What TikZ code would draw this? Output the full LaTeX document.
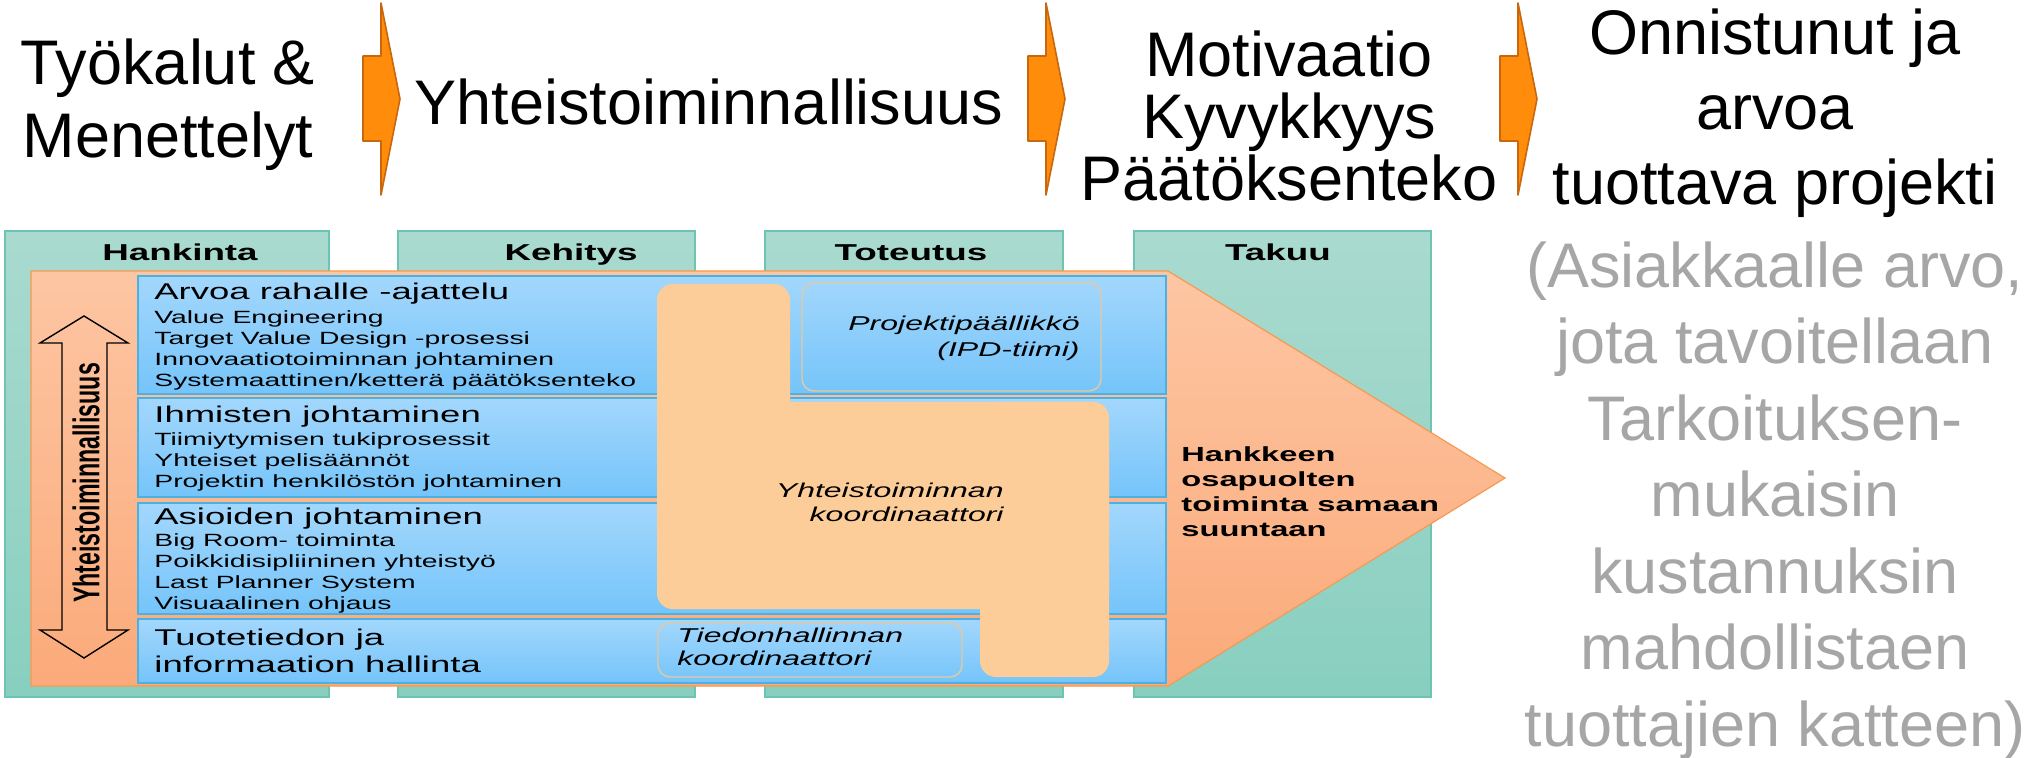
\documentclass[tikz,border=0pt]{standalone}
\usepackage{graphicx}
\usepackage{fontspec}
\setmainfont{Liberation Sans}
\newfontfamily\widefont[FakeStretch=1.6]{Liberation Sans}

\definecolor{phasetop}{HTML}{AADACF}
\definecolor{phasebot}{HTML}{88CFBF}
\definecolor{phaseline}{HTML}{6CC4B2}
\definecolor{flowtop}{HTML}{FDC6A3}
\definecolor{flowbot}{HTML}{FBAA7A}
\definecolor{flowline}{HTML}{F59A52}
\definecolor{bartop}{HTML}{A3D7FC}
\definecolor{barbot}{HTML}{75C4FA}
\definecolor{barline}{HTML}{4BB1E5}
\definecolor{coord}{HTML}{FDCD99}
\definecolor{roleline}{HTML}{E3C9A2}
\definecolor{chevfill}{HTML}{FF8C0A}
\definecolor{chevline}{HTML}{C8670E}
\definecolor{greytext}{HTML}{A6A6A6}

\begin{document}
\begin{tikzpicture}[x=0.5pt, y=-0.5pt,
    every node/.style={inner sep=0pt},
    chev/.style={fill=chevfill, draw=chevline, line width=0.8pt, line join=round},
    big/.style={font=\fontsize{31.5}{36.5}\selectfont, align=center, anchor=base},
    phase/.style={draw=phaseline, line width=0.6pt, top color=phasetop, bottom color=phasebot},
    head/.style={font=\widefont\bfseries\fontsize{11.5}{13}\selectfont, anchor=base},
    bar/.style={draw=barline, line width=0.6pt, top color=bartop, bottom color=barbot},
    bartitle/.style={font=\widefont\fontsize{11.4}{13.5}\selectfont, anchor=base west, align=left},
    baritems/.style={font=\widefont\fontsize{8.85}{10.65}\selectfont, anchor=base west, align=left},
    role/.style={font=\widefont\itshape\fontsize{10}{12}\selectfont},
    rolebox/.style={draw=roleline, line width=0.7pt, rounded corners=6pt}]
  \useasboundingbox (0,0) rectangle (2039,758);

  % top row (multi-line nodes sit on their last baseline)
  \foreach \x in {363,1028,1500}
    \draw[chev] (\x,56) -- (\x+18,56) -- (\x+18,3) -- (\x+37,99) -- (\x+18,195)
      -- (\x+18,141) -- (\x,141) -- cycle;
  \node[big] (tools) at (168,158) {Työkalut \&\\Menettelyt};
  \node[big] (yhteis) at (709,125) {Yhteistoiminnallisuus};
  \node[big, font=\fontsize{31.5}{31}\selectfont] (motiv) at (1289,201) {Motivaatio\\Kyvykkyys\\Päätöksenteko};
  \node[big, font=\fontsize{31.5}{37.5}\selectfont] (goal) at (1775,205) {Onnistunut ja\\arvoa\\tuottava projekti};
  \node[big, font=\fontsize{31.5}{38.25}\selectfont, text=greytext] (value) at (1775,746)
    {(Asiakkaalle arvo,\\jota tavoitellaan\\Tarkoituksen-\\mukaisin\\kustannuksin\\mahdollistaen\\tuottajien katteen)};

  % phases
  \foreach \a/\b/\c/\txt in {5/329/180/Hankinta, 398/695/571/Kehitys, 765/1063/911/Toteutus, 1134/1431/1278/Takuu}{
    \draw[phase] (\a,231) rectangle (\b,697);
    \node[head] (\txt) at (\c,261) {\txt};
  }

  % big arrow and bars
  \draw[flowline, line width=0.6pt, top color=flowtop, bottom color=flowbot]
    (31,271) -- (1168,271) -- (1505,478) -- (1168,686) -- (31,686) -- cycle;
  \foreach \t/\b in {276/394, 398/497, 503/614, 619/683}
    \draw[bar] (138,\t) rectangle (1166,\b);

  % coordinator area
  \fill[coord, rounded corners=8pt] (657,284) rectangle (790,609);
  \fill[coord, rounded corners=8pt] (657,402) rectangle (1109,609);
  \fill[coord, rounded corners=8pt] (980,402) rectangle (1109,677);
  \draw[rolebox] (802,283) rectangle (1101,391);
  \draw[rolebox] (658,623) rectangle (962,677);

  \node[bartitle] (arvoa) at (154,300) {Arvoa rahalle -ajattelu};
  \node[baritems] (arvoa-list) at (154,387) {Value Engineering\\Target Value Design -prosessi\\Innovaatiotoiminnan johtaminen\\Systemaattinen/ketterä päätöksenteko};
  \node[bartitle] (ihmiset) at (154,423) {Ihmisten johtaminen};
  \node[baritems] (ihmiset-list) at (154,488) {Tiimiytymisen tukiprosessit\\Yhteiset pelisäännöt\\Projektin henkilöstön johtaminen};
  \node[bartitle] (asiat) at (154,525) {Asioiden johtaminen};
  \node[baritems] (asiat-list) at (154,610) {Big Room- toiminta\\Poikkidisipliininen yhteistyö\\Last Planner System\\Visuaalinen ohjaus};
  \node[bartitle] (tieto) at (154,672) {Tuotetiedon ja\\informaation hallinta};

  \node[role, align=right, anchor=base east, font=\widefont\itshape\fontsize{10}{13}\selectfont] (pp) at (1080,357) {Projektipäällikkö\\(IPD-tiimi)};
  \node[role, align=right, anchor=base east] (yk) at (1004,522) {Yhteistoiminnan\\koordinaattori};
  \node[role, align=left, anchor=base west, font=\widefont\itshape\fontsize{10}{11.5}\selectfont] (tk) at (677,665) {Tiedonhallinnan\\koordinaattori};

  \node[font=\widefont\bfseries\fontsize{10.2}{12.5}\selectfont, align=left, anchor=base west] (suunta) at (1181,537)
    {Hankkeen\\osapuolten\\toiminta samaan\\suuntaan};

  % vertical double arrow
  \draw[line width=0.7pt] (84,316) -- (128,343) -- (107,343) -- (107,630) -- (128,630) -- (84,658)
    -- (40,630) -- (62,630) -- (62,343) -- (40,343) -- cycle;
  \node[rotate=90] (yhteis-v) at (86,483) {\scalebox{1}[1.6]{\bfseries\fontsize{11.6}{13}\selectfont Yhteistoiminnallisuus}};
\end{tikzpicture}
\end{document}
